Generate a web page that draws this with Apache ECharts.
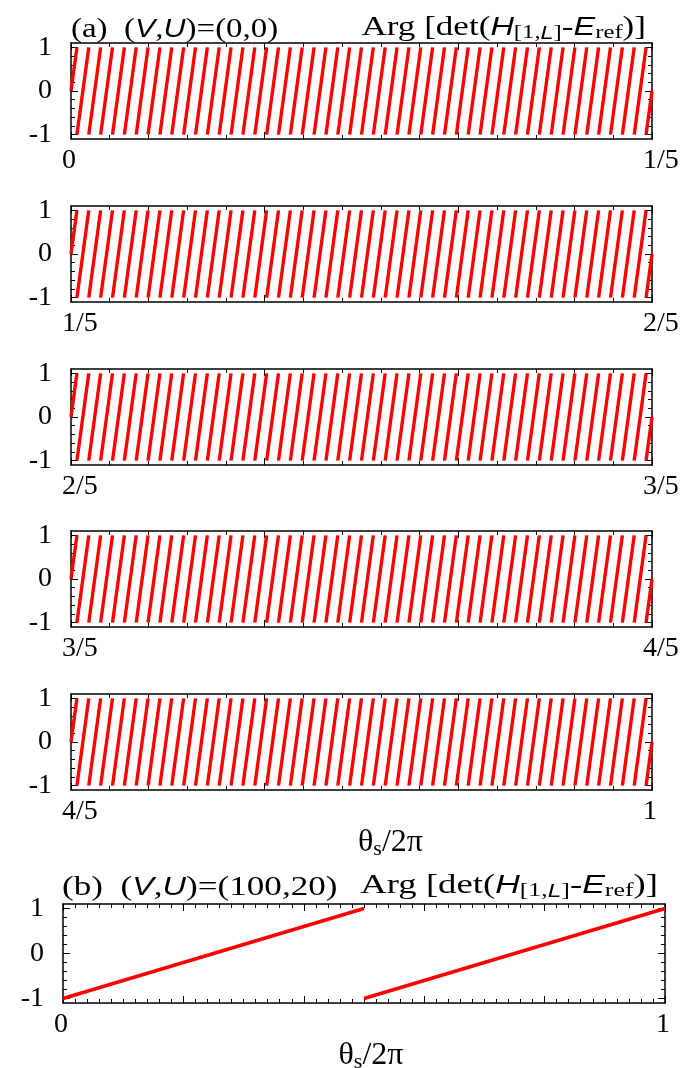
<!DOCTYPE html>
<html><head><meta charset="utf-8">
<script src="https://cdn.jsdelivr.net/npm/echarts@6/dist/echarts.min.js"></script>
<style>html,body{margin:0;padding:0;background:#fff}#c{width:689px;height:1068px}</style>
</head><body><div id="c"></div>
<script>
// ---------------- data ----------------
// (a) five panels, each covering 1/5 of theta_s/2pi
const PANEL_STARTS = [0, 0.2, 0.4, 0.6, 0.8];
const PANEL_ENDS = [0.2, 0.4, 0.6, 0.8, 1];
const PANEL_X_LABELS = [['0', '1/5'], ['1/5', '2/5'], ['2/5', '3/5'], ['3/5', '4/5'], ['4/5', '1']];
// positions (offset from panel start) where Arg jumps from +1 back to -1; same in every panel of (a)
const WRAP_OFFSETS_A = [
  0.00204, 0.00612, 0.01020, 0.01429, 0.01837, 0.02245, 0.02653, 0.03061, 0.03469, 0.03878,
  0.04286, 0.04694, 0.05102, 0.05510, 0.05918, 0.06327, 0.06735, 0.07143, 0.07551, 0.07959,
  0.08367, 0.08776, 0.09184, 0.09592, 0.10000, 0.10408, 0.10816, 0.11224, 0.11633, 0.12041,
  0.12449, 0.12857, 0.13265, 0.13673, 0.14082, 0.14490, 0.14898, 0.15306, 0.15714, 0.16122,
  0.16531, 0.16939, 0.17347, 0.17755, 0.18163, 0.18571, 0.18980, 0.19388, 0.19796
];
const ARG_AT_PANEL_EDGE_A = 0;   // value of Arg at each panel's left/right edge
const ARG_TOP = 1, ARG_BOTTOM = -1;
// (b) two straight segments
const B_SEG_THETA = [[0, 0.5], [0.5, 1]];
const B_SEG_ARG = [[-1, 1], [-1, 1]];
const B_X_LABELS = ['0', '1'];
// y ticks
const Y_TICK_VALUES = [-1, 0, 1];
const Y_TICK_LABELS = ['-1', '0', '1'];
const Y_MINOR_TICKS = [-0.8, -0.6, -0.4, -0.2, 0.2, 0.4, 0.6, 0.8];

// ---------------- styling ----------------
const SERIF = 'Liberation Serif';
const SANS = 'Liberation Sans';
const RED = '#ff0000';
const BLACK = '#000000';

const titleRich = {
  s: { fontFamily: SERIF, fontSize: 27, fontWeight: 'normal', fill: BLACK, color: BLACK, lineHeight: 30 },
  i: { fontFamily: SANS, fontStyle: 'italic', fontWeight: 'normal', fontSize: 25, fill: BLACK, color: BLACK, lineHeight: 30 },
  sb: { fontFamily: SERIF, fontSize: 19, fontWeight: 'normal', fill: BLACK, color: BLACK, lineHeight: 13, verticalAlign: 'bottom' },
  sbi: { fontFamily: SANS, fontStyle: 'italic', fontWeight: 'normal', fontSize: 18, fill: BLACK, color: BLACK, lineHeight: 13, verticalAlign: 'bottom' }
};
const nameRich = {
  t: { fontFamily: SERIF, fontSize: 32, color: BLACK, lineHeight: 34 },
  sb: { fontFamily: SERIF, fontSize: 22, color: BLACK, lineHeight: 15, verticalAlign: 'bottom' }
};
const labelRich = {
  l: { fontFamily: SERIF, fontSize: 28, color: BLACK, width: 18, align: 'left' }
};

const grids = [];
const xAxes = [];
const yAxes = [];
const series = [];

function range(a, b, step, skipEvery) {
  const out = [];
  const n = Math.round((b - a) / step);
  for (let k = 0; k <= n; k++) {
    if (skipEvery && k % skipEvery === 0) continue;
    out.push(+(a + k * step).toFixed(6));
  }
  return out;
}

function addPanel(geom, xmin, xmax, xLabels, majorStep, minorStep, nameOpt) {
  const gi = grids.length;
  grids.push(Object.assign({ containLabel: false, outerBoundsMode: 'none' }, geom));
  const majors = range(xmin, xmax, majorStep);
  const minors = range(xmin, xmax, minorStep, Math.round(majorStep / minorStep));
  const lineOn = { show: true, onZero: false, lineStyle: { color: BLACK, width: 1.5 } };
  const lineOff = { show: false, onZero: false };
  const base = { gridIndex: gi, type: 'value', min: xmin, max: xmax, splitLine: { show: false } };
  const xMain = Object.assign({}, base, {
    position: 'bottom',
    axisLine: lineOn,
    axisTick: { show: true, inside: true, length: 7, customValues: majors, lineStyle: { color: BLACK, width: 1 } },
    axisLabel: {
      show: true, customValues: [xmin, xmax], margin: 8,
      formatter: v => '{l|' + (Math.abs(v - xmin) < 1e-9 ? xLabels[0] : xLabels[1]) + '}',
      rich: labelRich
    }
  });
  if (nameOpt) {
    Object.assign(xMain, {
      name: '{t|θ}{sb|s}{t|/2π}', nameLocation: 'middle', nameGap: nameOpt.gap,
      nameTextStyle: { rich: nameRich, padding: [0, 0, 0, nameOpt.pad] }
    });
  }
  const xIdx = xAxes.length;
  xAxes.push(xMain);
  xAxes.push(Object.assign({}, base, { position: 'bottom', axisLine: lineOff,
    axisTick: { show: true, inside: true, length: 4, customValues: minors, lineStyle: { color: BLACK, width: 1 } },
    axisLabel: { show: false } }));
  xAxes.push(Object.assign({}, base, { position: 'top', axisLine: lineOn,
    axisTick: { show: true, inside: true, length: 7, customValues: majors, lineStyle: { color: BLACK, width: 1 } },
    axisLabel: { show: false } }));
  xAxes.push(Object.assign({}, base, { position: 'top', axisLine: lineOff,
    axisTick: { show: true, inside: true, length: 4, customValues: minors, lineStyle: { color: BLACK, width: 1 } },
    axisLabel: { show: false } }));

  const ybase = { gridIndex: gi, type: 'value', min: -1.1, max: 1.1, splitLine: { show: false } };
  const yIdx = yAxes.length;
  yAxes.push(Object.assign({}, ybase, { position: 'left', axisLine: lineOn,
    axisTick: { show: true, inside: true, length: 7, customValues: Y_TICK_VALUES, lineStyle: { color: BLACK, width: 1 } },
    axisLabel: { show: true, customValues: Y_TICK_VALUES, margin: 19,
      formatter: v => Y_TICK_LABELS[Y_TICK_VALUES.findIndex(t => Math.abs(t - v) < 1e-9)],
      fontFamily: SERIF, fontSize: 28, color: BLACK } }));
  yAxes.push(Object.assign({}, ybase, { position: 'left', axisLine: lineOff,
    axisTick: { show: true, inside: true, length: 4, customValues: Y_MINOR_TICKS, lineStyle: { color: BLACK, width: 1 } },
    axisLabel: { show: false } }));
  yAxes.push(Object.assign({}, ybase, { position: 'right', axisLine: lineOn,
    axisTick: { show: true, inside: true, length: 7, customValues: Y_TICK_VALUES, lineStyle: { color: BLACK, width: 1 } },
    axisLabel: { show: false } }));
  yAxes.push(Object.assign({}, ybase, { position: 'right', axisLine: lineOff,
    axisTick: { show: true, inside: true, length: 4, customValues: Y_MINOR_TICKS, lineStyle: { color: BLACK, width: 1 } },
    axisLabel: { show: false } }));
  return { xIdx, yIdx };
}

function lineSeries(idx, data) {
  return {
    type: 'line', xAxisIndex: idx.xIdx, yAxisIndex: idx.yIdx, data,
    showSymbol: false, symbol: 'none', connectNulls: false, silent: true, animation: false,
    lineStyle: { color: RED, width: 3.4 }, clip: true, z: 1
  };
}

const A_TOPS = [43, 206, 369, 531, 694];
PANEL_STARTS.forEach((start, p) => {
  const end = PANEL_ENDS[p];
  const idx = addPanel({ left: 71, right: 37, top: A_TOPS[p], height: 96 },
    start, end, PANEL_X_LABELS[p], (end - start) / 3, (end - start) / 15,
    p === 4 ? { gap: 12, pad: 58 } : null);
  const pts = [[start, ARG_AT_PANEL_EDGE_A]];
  WRAP_OFFSETS_A.forEach(w => {
    const x = start + w;
    pts.push([x, ARG_TOP], [x, '-'], [x, ARG_BOTTOM]);
  });
  pts.push([end, ARG_AT_PANEL_EDGE_A]);
  series.push(lineSeries(idx, pts));
});

const idxB = addPanel({ left: 63, right: 24, top: 904, height: 99 }, 0, 1, B_X_LABELS, 0.2, 0.02, { gap: 8, pad: 14 });
const ptsB = [];
B_SEG_THETA.forEach((seg, i) => {
  if (i > 0) ptsB.push([seg[0], '-']);
  ptsB.push([seg[0], B_SEG_ARG[i][0]], [seg[1], B_SEG_ARG[i][1]]);
});
series.push(lineSeries(idxB, ptsB));

// panel titles, drawn as text stretched horizontally like the reference lettering
const ARG_TEXT = '{s|Arg [det(}{i|H}{sb|[1,}{sbi|L}{sb|]}{s|-}{i|E}{sb|ref}{s|)]}';
function titleText(x, y, text, align, sx) {
  return {
    type: 'text', x, y, scaleX: sx, scaleY: 1, originX: 0, originY: 0, silent: true, z: 100,
    style: { text, rich: titleRich, align, verticalAlign: 'middle', fill: BLACK,
      fontFamily: SERIF, fontSize: 27 }
  };
}
const graphics = [
  titleText(71, 30, '{s|(a)  (}{i|V}{s|,}{i|U}{s|)=(0,0)}', 'left', 1.22),
  titleText(646, 28, ARG_TEXT, 'right', 1.3),
  titleText(62, 888, '{s|(b)  (}{i|V}{s|,}{i|U}{s|)=(100,20)}', 'left', 1.3),
  titleText(658, 886, ARG_TEXT, 'right', 1.36)
];

const chart = echarts.init(document.getElementById('c'), null, { renderer: 'canvas' });
chart.setOption({
  backgroundColor: '#ffffff',
  animation: false,
  textStyle: { fontFamily: SERIF, color: BLACK },
  graphic: { elements: graphics },
  grid: grids,
  xAxis: xAxes,
  yAxis: yAxes,
  series
});
</script>
</body></html>
